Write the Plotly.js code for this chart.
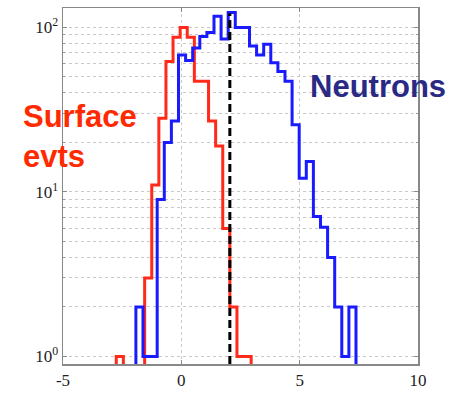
<!DOCTYPE html>
<html><head><meta charset="utf-8">
<script src="https://cdn.plot.ly/plotly-3.0.1.min.js"></script>
<style>html,body{margin:0;padding:0;background:#fff}#chart{width:458px;height:395px}</style>
</head><body><div id="chart"></div>
<script>
// ---- data ----
const surfaceFirstEdge = -2.75;   // left edge of first surface-event bin
const neutronFirstEdge = -1.92;   // left edge of first neutron bin
const binWidth = 0.3;
const surfaceCounts = [1,0,0,0,3,11,28,62,87,100,87,47,47,27,19,6,2,1,1];
const neutronCounts = [2,1,1,9,20,27,68,63,75,88,93,117,85,123,100,100,77,68,79,61,54,47,25.6,12.1,15.3,7.1,6.1,4,2,1,2];
const cutValue = 2.05;
const xTickVals = [-5,0,5,10];
const xTickText = ['-5','0','5','10'];
const yDecades = [1,10,100];
const yDecadeLabels = ['10<sup>0</sup>','10<sup>1</sup>','10<sup>2</sup>'];
const yMinorVals = [2,3,4,5,6,7,8,9,20,30,40,50,60,70,80,90];
const surfaceLabel = 'Surface<br>evts';
const neutronLabel = 'Neutrons';

// ---- build step outlines ----
const FLOOR = 0.3;
function stepTrace(firstEdge, counts){
  const xs=[firstEdge], ys=[FLOOR];
  counts.forEach((c,i)=>{ xs.push(firstEdge+i*binWidth); ys.push(c>0?c:FLOOR); });
  xs.push(firstEdge+counts.length*binWidth); ys.push(FLOOR);
  return {xs, ys};
}
const s = stepTrace(surfaceFirstEdge, surfaceCounts);
const n = stepTrace(neutronFirstEdge, neutronCounts);

const traces = [
  {x:s.xs, y:s.ys, type:'scatter', mode:'lines', line:{shape:'hv', color:'#ff2a1a', width:3}, hoverinfo:'skip'},
  {x:n.xs, y:n.ys, type:'scatter', mode:'lines', line:{shape:'hv', color:'#1a1aff', width:3}, hoverinfo:'skip'}
];

const axisFont = {family:'Liberation Serif, DejaVu Serif, serif', size:17, color:'#222'};
const gridStyle = {showgrid:true, gridcolor:'#c8c8c8', griddash:'dot', gridwidth:1};
const layout = {
  width:458, height:395,
  margin:{l:63, r:40, t:8, b:31},
  paper_bgcolor:'#fff', plot_bgcolor:'#fff',
  showlegend:false,
  xaxis:Object.assign({range:[-5,10], tickmode:'array', tickvals:xTickVals, ticktext:xTickText,
    zeroline:false, showline:true, linecolor:'#888', linewidth:1.5, mirror:'ticks', ticks:'inside', ticklen:4, tickcolor:'#888',
    tickfont:axisFont}, gridStyle),
  yaxis:Object.assign({type:'log', range:[-0.046, 2.118], tickmode:'array', tickvals:yDecades, ticktext:yDecadeLabels,
    zeroline:false, showline:true, linecolor:'#888', linewidth:1.5, mirror:'ticks', ticks:'inside', ticklen:4, tickcolor:'#888',
    tickfont:axisFont,
    minor:Object.assign({tickmode:'array', tickvals:yMinorVals, ticks:'inside', ticklen:2, tickcolor:'#999'}, gridStyle)}, gridStyle),
  shapes:[{type:'line', xref:'x', yref:'paper', x0:cutValue, x1:cutValue, y0:0, y1:0.985,
    line:{color:'#000', width:3, dash:'8px,4px'}}],
  annotations:[
    {text:surfaceLabel, xref:'paper', yref:'paper', x:-0.118, y:0.64, xanchor:'left', yanchor:'middle', align:'left',
      showarrow:false, font:{family:'Liberation Sans, Arial, sans-serif', size:31, color:'#ff2a00', weight:'bold'}},
    {text:neutronLabel, xref:'paper', yref:'paper', x:0.69, y:0.78, xanchor:'left', yanchor:'middle',
      showarrow:false, font:{family:'Liberation Sans, Arial, sans-serif', size:31, color:'#2a2a85', weight:'bold'}}
  ]
};
Plotly.newPlot('chart', traces, layout, {staticPlot:true, displayModeBar:false});
</script>
</body></html>
